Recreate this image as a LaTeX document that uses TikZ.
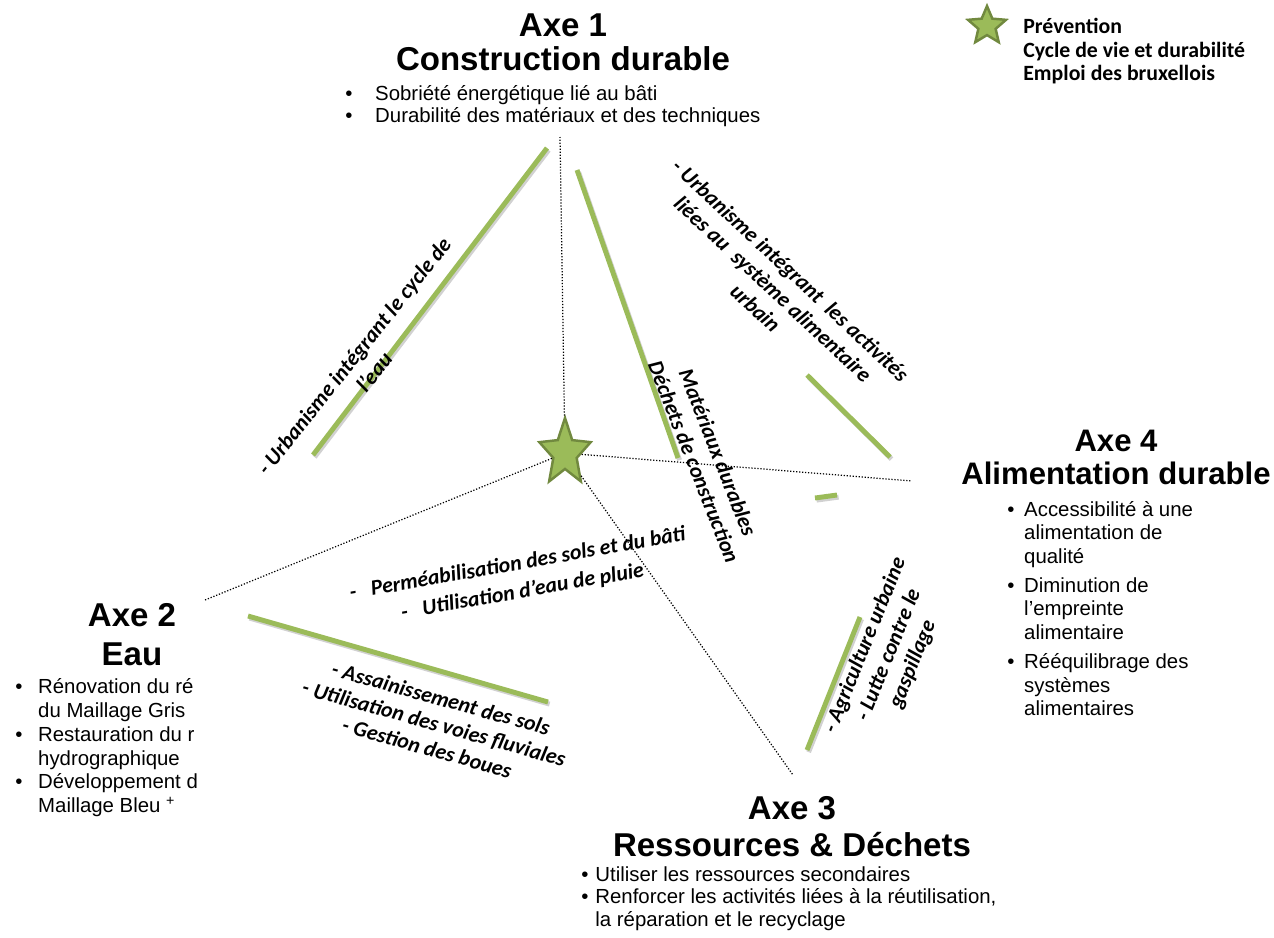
\documentclass[tikz,border=0pt]{standalone}
\usepackage{fontspec}
\setmainfont{Liberation Sans}
\newfontfamily\calibri{Carlito}
\usetikzlibrary{positioning, shapes.geometric}

\definecolor{olivegreen}{HTML}{9BBB59}
\definecolor{olivedark}{HTML}{71893F}

\newcommand\bul[1]{\makebox[#1][l]{\textbullet}}
\newcommand\bulpad[1]{\hspace*{#1}}

\tikzset{
  axetitle/.style={font=\bfseries\fontsize{18.8}{#1}\selectfont, align=center, inner sep=0pt},
  axetitle/.default=19.5,
  axelist/.style={font=\fontsize{11.6}{#1}\selectfont, align=left, inner sep=0pt},
  axelist/.default=12.6,
  linklabel/.style={font=\calibri\bfseries\itshape\fontsize{12.4}{14.6}\selectfont, align=center, inner sep=0pt},
  legendtext/.style={font=\calibri\bfseries\fontsize{12.4}{13.4}\selectfont, align=left, inner sep=0pt},
  edge/.style={olivegreen, line width=2.8pt,
    preaction={draw=black!18, line width=2.8pt, transform canvas={xshift=0.9pt, yshift=-1.2pt}}},
  spoke/.style={densely dotted, line width=0.7pt},
  prevstar/.style={star, star points=5, star point ratio=2.2, fill=olivegreen, draw=olivedark, line width=1.4pt, inner sep=0pt}
}

\begin{document}
\begin{tikzpicture}[x=0.02cm, y=-0.02cm]
\useasboundingbox (0,0) rectangle (1274,937);
% Corners of the tetrahedron
\coordinate (c1) at (560,137);
\coordinate (c2) at (205,600);
\coordinate (c3) at (793,775);
\coordinate (c4) at (912,481);
% Green edges, partly hidden behind the labels
\draw[edge] (313,455) -- (547,148);
\draw[edge] (577,170) -- (678,458);
\draw[edge] (807,375) -- (890,457);
\draw[edge] (815,498) -- (837,495);
\draw[edge] (248,616) -- (548,702);
\draw[edge] (807,750) -- (860,617);
% Central star and dotted spokes
\node[prevstar, minimum size=1.08cm, yscale=1.3] (prev) at (565,453) {};
\foreach \c in {c1,c2,c3,c4}
  \draw[spoke] (prev) -- (\c);
% Axe 1
\node[axetitle, anchor=north] (axe1) at (563,13) {Axe 1\\Construction durable};
\node[axelist, anchor=north west] (axe1list) at (345,85)
  {\bul{17pt}Sobriété énergétique lié au bâti\\\bul{17pt}Durabilité des matériaux et des techniques};
% Axe 2
\node[axetitle=22.5, anchor=north] (axe2) at (132,603) {Axe 2\\Eau};
\node[axelist=13.6, anchor=north west] (axe2list) at (15,678)
  {\bul{13pt}Rénovation du ré\\\bulpad{13pt}du Maillage Gris\\\bul{13pt}Restauration du r\\\bulpad{13pt}hydrographique\\\bul{13pt}Développement d\\\bulpad{13pt}Maillage Bleu \textsuperscript{+}};
% Axe 3
\node[axetitle=21, anchor=north] (axe3) at (792,796) {Axe 3\\Ressources \& Déchets};
\node[axelist=12.8, anchor=north west] (axe3list) at (581,866)
  {\bul{8pt}Utiliser les ressources secondaires\\\bul{8pt}Renforcer les activités liées à la réutilisation,\\\bulpad{8pt}la réparation et le recyclage};
% Axe 4
\node[axetitle=18.7, font=\bfseries\fontsize{17.7}{18.7}\selectfont, anchor=north] (axe4) at (1116,430) {Axe 4\\Alimentation durable};
\node[axelist=13.3, anchor=north west] (axe4list) at (1007,501)
  {\bul{9.6pt}Accessibilité à une\\\bulpad{9.6pt}alimentation de\\\bulpad{9.6pt}qualité\\[3.5pt]\bul{9.6pt}Diminution de\\\bulpad{9.6pt}l’empreinte\\\bulpad{9.6pt}alimentaire\\[3.5pt]\bul{9.6pt}Rééquilibrage des\\\bulpad{9.6pt}systèmes\\\bulpad{9.6pt}alimentaires};
% Labels along the edges
\node[linklabel, rotate=51.4] (lbl12) at (364,364) {- Urbanisme intégrant le cycle de\\l’eau};
\node[linklabel, rotate=-43] (lbl14) at (773,289) {- Urbanisme intégrant\ \ les activités\\liées au\ \ système alimentaire\\urbain};
\node[linklabel, rotate=-68.5] (lbl13) at (706,457) {Matériaux durables\\Déchets de construction};
\node[linklabel, rotate=10, font=\calibri\bfseries\itshape\fontsize{12.4}{16}\selectfont] (lbl2c) at (520,578) {-\hspace{8.5pt}Perméabilisation des sols et du bâti\\-\hspace{8.5pt}Utilisation d’eau de pluie};
\node[linklabel, rotate=-15.5] (lbl23) at (434,723) {- Assainissement des sols\\- Utilisation des voies fluviales\\- Gestion des boues};
\node[linklabel, rotate=68] (lbl34) at (889,655) {- Agriculture urbaine\\- Lutte contre le\\gaspillage};
% Legend
\node[prevstar, minimum size=0.8cm] (legstar) at (987,26) {};
\node[legendtext, anchor=north west] (legtext) at (1023,18) {Prévention\\Cycle de vie et durabilité\\Emploi des bruxellois};
\end{tikzpicture}
\end{document}
